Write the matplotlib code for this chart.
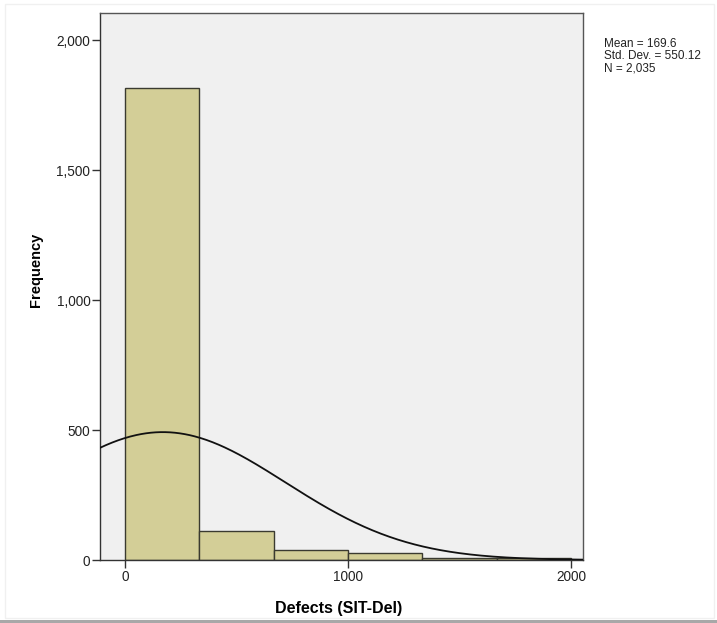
import numpy as np
import matplotlib.pyplot as plt
from matplotlib.patches import Rectangle
from matplotlib.ticker import FuncFormatter

plt.rcParams['font.family'] = ['Liberation Sans', 'DejaVu Sans']

# histogram of defects, 6 bins of equal width
bin_edges = [0, 333.33, 666.67, 1000, 1333.33, 1666.67, 2000]
counts = [1814, 111, 38, 26, 9, 6]

mean = 169.6
std_dev = 550.12
n_total = 2035

fig = plt.figure(figsize=(7.17, 6.23), dpi=100)
fig.patch.set_facecolor('white')
ax = fig.add_axes([100 / 717, 63 / 623, 483 / 717, 547 / 623])
ax.set_facecolor('#f0f0f0')

widths = np.diff(bin_edges)
ax.bar(bin_edges[:-1], counts, width=widths, align='edge',
       color='#d3ce97', edgecolor='#3a3a30', linewidth=1.0, zorder=2)

# normal curve scaled to counts per bin
xlim = (-112, 2054)
xs = np.linspace(xlim[0], xlim[1], 400)
bw = widths[0]
ys = n_total * bw / (std_dev * np.sqrt(2 * np.pi)) * np.exp(-0.5 * ((xs - mean) / std_dev) ** 2)
ax.plot(xs, ys, color='#111111', linewidth=1.3, zorder=3)

ax.set_xlim(*xlim)
ax.set_ylim(0, 2104)
ax.set_xticks([0, 1000, 2000])
ax.set_yticks([0, 500, 1000, 1500, 2000])
ax.yaxis.set_major_formatter(FuncFormatter(lambda v, p: f'{int(v):,}'))
ax.tick_params(axis='both', direction='out', length=6, width=1, color='#333333',
               labelsize=9.8, labelcolor='#222222', pad=1)

for side in ['left', 'bottom']:
    ax.spines[side].set_color('#333333')
for side in ['top', 'right']:
    ax.spines[side].set_color('#555555')
for sp in ax.spines.values():
    sp.set_linewidth(1.0)

ax.set_xlabel('Defects (SIT-Del)', fontsize=11.5, fontweight='bold')
ax.xaxis.set_label_coords(0.495, -0.075)
ax.set_ylabel('Frequency', fontsize=10.5, fontweight='bold')
ax.yaxis.set_label_coords(-0.118, 0.53)

stats = f'Mean = {mean}\nStd. Dev. = {std_dev:.2f}\nN = {n_total:,}'
fig.text(604 / 717, 1 - 38 / 623, stats, fontsize=8.5, color='#222222',
         va='top', ha='left', linespacing=1.05)

# thin frame and grey band along the bottom
fig.add_artist(Rectangle((5 / 717, 5 / 623), 709 / 717, 614 / 623, transform=fig.transFigure,
                         fill=False, edgecolor='#f0f0f0', linewidth=1))
fig.add_artist(Rectangle((0, 0), 1, 3 / 623, transform=fig.transFigure,
                         facecolor='#a8a8a8', edgecolor='none'))

fig.savefig('out.png', dpi=100)
